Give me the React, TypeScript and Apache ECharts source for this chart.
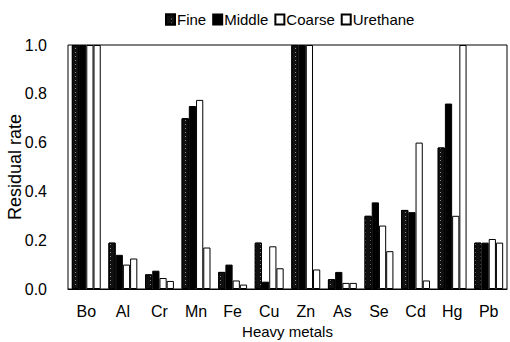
import React, { useEffect, useRef } from "react";
import * as echarts from "echarts";

const categories = ["Bo", "Al", "Cr", "Mn", "Fe", "Cu", "Zn", "As", "Se", "Cd", "Hg", "Pb"];
const fine = [1.0, 0.19, 0.06, 0.7, 0.07, 0.19, 1.0, 0.04, 0.3, 0.324, 0.58, 0.19];
const middle = [1.0, 0.14, 0.075, 0.75, 0.1, 0.03, 1.0, 0.07, 0.355, 0.315, 0.76, 0.19];
const coarse = [1.0, 0.1, 0.045, 0.775, 0.035, 0.175, 1.0, 0.025, 0.26, 0.6, 0.3, 0.205];
const urethane = [1.0, 0.125, 0.033, 0.17, 0.018, 0.085, 0.08, 0.025, 0.155, 0.035, 1.0, 0.19];
const yTicks = [0, 0.2, 0.4, 0.6, 0.8, 1.0];

const FONT = "'Liberation Sans', Arial, sans-serif";

export default function App() {
  const ref = useRef<HTMLDivElement>(null);
  useEffect(() => {
    if (!ref.current) return;
    const chart = echarts.init(ref.current, null, { renderer: "svg" });
    const border = { borderColor: "#000", borderWidth: 1 };
    chart.setOption({
      animation: false,
      backgroundColor: "#fff",
      textStyle: { fontFamily: FONT, color: "#000" },
      legend: {
        top: 7,
        left: 160,
        icon: "rect",
        itemWidth: 9,
        itemHeight: 10,
        itemGap: 6,
        textStyle: { fontSize: 15, color: "#000", fontFamily: FONT, padding: [0, 0, 0, -3] },
        data: ["Fine", "Middle", "Coarse", "Urethane"],
      },
      grid: {
        left: 68,
        right: 3,
        top: 45,
        bottom: 53,
        show: true,
        containLabel: false,
        outerBoundsMode: "none",
        borderColor: "#000",
        borderWidth: 1,
        backgroundColor: "transparent",
      },
      xAxis: {
        type: "category",
        data: categories,
        name: "Heavy metals",
        nameLocation: "middle",
        nameGap: 35,
        nameMoveOverlap: false,
        nameTextStyle: { fontSize: 15, color: "#000", fontFamily: FONT },
        axisLine: { lineStyle: { color: "#000", width: 1 } },
        axisTick: { show: false },
        axisLabel: { fontSize: 16, color: "#000", margin: 14, fontFamily: FONT },
      },
      yAxis: {
        type: "value",
        min: 0,
        max: 1,
        interval: 0.2,
        name: "Residual rate",
        nameLocation: "middle",
        nameGap: 44,
        nameMoveOverlap: false,
        nameTextStyle: { fontSize: 18, color: "#000", fontFamily: FONT },
        axisLine: { show: false },
        axisTick: { show: false },
        splitLine: { show: false },
        axisLabel: {
          fontSize: 16,
          color: "#000",
          margin: 21,
          fontFamily: FONT,
          formatter: (v: number) => (yTicks.includes(Math.round(v * 10) / 10) ? v.toFixed(1) : ""),
        },
      },
      series: [
        {
          name: "Fine",
          type: "bar",
          data: fine,
          barGap: "0%",
          barCategoryGap: "21%",
          itemStyle: {
            color: "#111",
            ...border,
            decal: {
              symbol: "rect",
              symbolSize: 1,
              color: "rgba(255,255,255,0.5)",
              dashArrayX: [1, 4],
              dashArrayY: [1, 3],
            },
          },
        },
        {
          name: "Middle",
          type: "bar",
          data: middle,
          barGap: "0%",
          barCategoryGap: "21%",
          itemStyle: { color: "#000", ...border },
        },
        {
          name: "Coarse",
          type: "bar",
          data: coarse,
          barGap: "0%",
          barCategoryGap: "21%",
          itemStyle: { color: "#fff", ...border },
        },
        {
          name: "Urethane",
          type: "bar",
          data: urethane,
          barGap: "0%",
          barCategoryGap: "21%",
          itemStyle: { color: "#fff", ...border },
        },
      ],
    });
    return () => chart.dispose();
  }, []);
  return (
    <div
      ref={ref}
      style={{ position: "fixed", left: 0, top: 0, width: 510, height: 342, background: "#fff" }}
    />
  );
}
